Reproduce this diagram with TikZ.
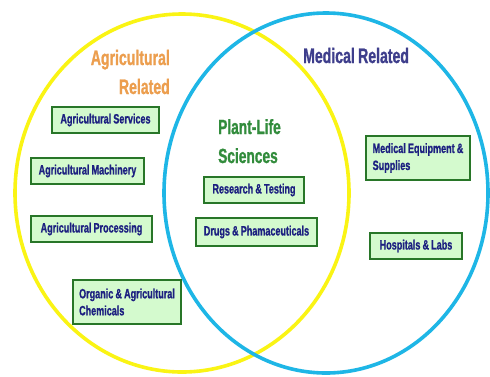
\documentclass[tikz,border=0pt]{standalone}
\usepackage{fontspec}
\newfontfamily\cnd[FakeStretch=0.67, WordSpace=0.85, BoldFeatures={FakeBold=1}]{Liberation Sans}
\usetikzlibrary{shadows}
\definecolor{ringyellow}{RGB}{250,244,20}
\definecolor{ringblue}{RGB}{30,182,230}
\definecolor{agorange}{RGB}{236,158,78}
\definecolor{mednavy}{RGB}{62,62,140}
\definecolor{plantgreen}{RGB}{50,140,60}
\definecolor{boxtext}{RGB}{28,32,128}
\definecolor{boxfill}{RGB}{212,250,206}
\definecolor{boxedge}{RGB}{40,118,40}
\tikzset{
  itembox/.style={draw=boxedge, line width=1.3pt, fill=boxfill, text=boxtext,
    font=\cnd\bfseries\fontsize{13.5}{17}\selectfont, align=left,
    inner xsep=5pt, inner ysep=2pt, anchor=center,
    drop shadow={shadow xshift=1pt, shadow yshift=-1pt, fill=boxedge!70!black, opacity=1}},
  bigtitle/.style={font=\cnd\bfseries\fontsize{21}{29}\selectfont, inner sep=0pt},
  ring/.style={line width=3.6pt}
}
\begin{document}
\begin{tikzpicture}[x=1pt,y=-1pt]
\useasboundingbox (0,0) rectangle (490,376);
\fill[white] (0,0) rectangle (490,376);
% circles
\draw[ring, draw=ringyellow] (182,193) ellipse [x radius=167, y radius=179];
\draw[ring, draw=ringblue] (326,193) ellipse [x radius=162, y radius=180];
% titles
\node[bigtitle, text=agorange, anchor=base east] (agt1) at (170,65) {Agricultural};
\node[bigtitle, text=agorange, anchor=base east] (agt2) at (170,94) {Related};
\node[bigtitle, text=mednavy, anchor=base west] (medt) at (303,63) {Medical Related};
\node[bigtitle, text=plantgreen, anchor=base west, font=\cnd\bfseries\fontsize{20.5}{29}\selectfont] (plt1) at (218,134) {Plant-Life};
\node[bigtitle, text=plantgreen, anchor=base west, font=\cnd\bfseries\fontsize{20.5}{29}\selectfont] (plt2) at (218,163) {Sciences};
% boxes
\node[itembox, minimum width=107pt, minimum height=26pt] (as) at (105.5,120) {Agricultural Services};
\node[itembox, minimum width=113pt, minimum height=26pt] (am) at (87.5,171) {Agricultural Machinery};
\node[itembox, minimum width=121pt, minimum height=26pt] (ap) at (91.5,229) {Agricultural Processing};
\node[itembox, minimum width=108pt, minimum height=44pt] (oc) at (127,302) {Organic \& Agricultural\\Chemicals};
\node[itembox, minimum width=100pt, minimum height=26pt] (rt) at (254,190) {Research \& Testing};
\node[itembox, minimum width=121pt, minimum height=28pt] (dp) at (256.5,232) {Drugs \& Phamaceuticals};
\node[itembox, minimum width=104pt, minimum height=44pt] (me) at (418,158) {Medical Equipment \&\\Supplies};
\node[itembox, minimum width=92pt, minimum height=26pt] (hl) at (416,246) {Hospitals \& Labs};
\end{tikzpicture}
\end{document}
